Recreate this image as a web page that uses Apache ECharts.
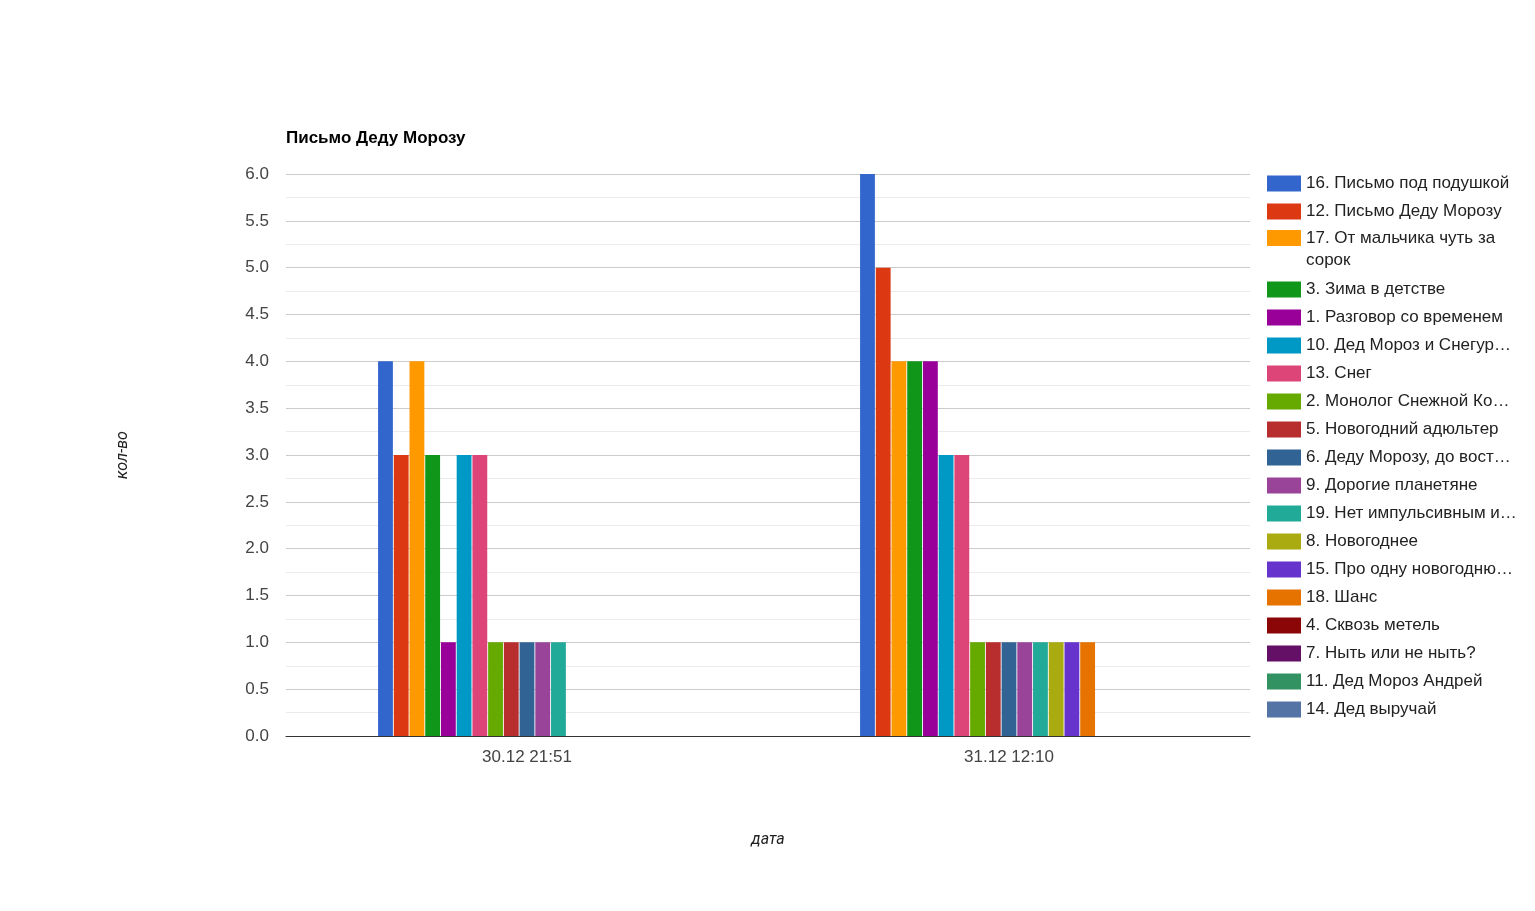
<!DOCTYPE html>
<html>
<head>
<meta charset="utf-8">
<script src="https://cdn.jsdelivr.net/npm/echarts@6/dist/echarts.min.js"></script>
<style>
html,body{margin:0;padding:0;background:#fff;}
#c{width:1535px;height:911px;}
</style>
</head>
<body>
<div id="c"></div>
<script>
const categories = ['30.12 21:51', '31.12 12:10'];
const seriesNames = [
  '16. Письмо под подушкой',
  '12. Письмо Деду Морозу',
  '17. От мальчика чуть за сорок',
  '3. Зима в детстве',
  '1. Разговор со временем',
  '10. Дед Мороз и Снегур…',
  '13. Снег',
  '2. Монолог Снежной Ко…',
  '5. Новогодний адюльтер',
  '6. Деду Морозу, до вост…',
  '9. Дорогие планетяне',
  '19. Нет импульсивным и…',
  '8. Новогоднее',
  '15. Про одну новогодню…',
  '18. Шанс',
  '4. Сквозь метель',
  '7. Ныть или не ныть?',
  '11. Дед Мороз Андрей',
  '14. Дед выручай'
];
const valuesFirst  = [4, 3, 4, 3, 1, 3, 3, 1, 1, 1, 1, 1, 0, 0, 0, 0, 0, 0, 0];
const valuesSecond = [6, 5, 4, 4, 4, 3, 3, 1, 1, 1, 1, 1, 1, 1, 1, 0, 0, 0, 0];
const colors = ['#3366cc','#dc3912','#ff9900','#109618','#990099','#0099c6','#dd4477','#66aa00','#b82e2e','#316395','#994499','#22aa99','#aaaa11','#6633cc','#e67300','#8b0707','#651067','#329262','#5574a6'];
const yTicks = {min: 0, max: 6, interval: 0.5};

const FONT = '"Liberation Sans", Arial, sans-serif';
const IFONT = 'Roboto, "Liberation Sans", Arial, sans-serif';

const series = seriesNames.map((name, i) => ({
  name: name,
  type: 'bar',
  data: [valuesFirst[i], valuesSecond[i]],
  itemStyle: {color: colors[i]},
  barGap: '6%',
  barCategoryGap: '38.2%',
  emphasis: {disabled: true}
}));

const legendText = {fontFamily: FONT, fontSize: 17, color: '#222', lineHeight: 12, padding: [4, 0, 0, 0]};
const legendCommon = {
  orient: 'vertical',
  left: 1267,
  padding: 0,
  itemWidth: 34,
  itemHeight: 16,
  itemGap: 11,
  icon: 'rect',
  selectedMode: false,
  textStyle: legendText
};

const chart = echarts.init(document.getElementById('c'), null, {renderer: 'canvas'});
chart.setOption({
  animation: false,
  color: colors,
  title: {
    text: 'Письмо Деду Морозу',
    left: 286,
    top: 130,
    padding: 0,
    textStyle: {fontFamily: FONT, fontSize: 17, fontWeight: 'bold', color: '#000'}
  },
  legend: [
    Object.assign({}, legendCommon, {
      top: 175,
      data: [seriesNames[0], seriesNames[1]]
    }),
    Object.assign({}, legendCommon, {
      top: 205,
      formatter: function () { return '\n17. От мальчика чуть за\nсорок'; },
      textStyle: Object.assign({}, legendText, {lineHeight: 22, padding: 0}),
      data: [seriesNames[2]]
    }),
    Object.assign({}, legendCommon, {
      top: 281,
      data: seriesNames.slice(3)
    })
  ],
  grid: {left: 286, right: 285, top: 174, bottom: 175, containLabel: false},
  xAxis: {
    type: 'category',
    data: categories,
    name: 'дата',
    nameLocation: 'middle',
    nameGap: 96,
    nameTextStyle: {fontFamily: IFONT, fontSize: 16, fontStyle: 'italic', color: '#222'},
    axisLine: {show: true, lineStyle: {color: '#333', width: 1}},
    axisTick: {show: false},
    axisLabel: {fontFamily: FONT, fontSize: 17, color: '#444', margin: 13},
    splitLine: {show: false}
  },
  yAxis: {
    type: 'value',
    min: yTicks.min,
    max: yTicks.max,
    interval: yTicks.interval,
    name: 'кол-во',
    nameLocation: 'middle',
    nameRotate: 90,
    nameGap: 155,
    nameTextStyle: {fontFamily: IFONT, fontSize: 16, fontStyle: 'italic', color: '#222'},
    axisLine: {show: false},
    axisTick: {show: false},
    axisLabel: {
      fontFamily: FONT, fontSize: 17, color: '#444', margin: 17, padding: [4, 0, 0, 0],
      formatter: function (v) { return v.toFixed(1); }
    },
    splitLine: {show: true, lineStyle: {color: '#cccccc', width: 1}},
    minorTick: {show: false, splitNumber: 2},
    minorSplitLine: {show: true, lineStyle: {color: '#ebebeb', width: 1}}
  },
  series: series
});
</script>
</body>
</html>
